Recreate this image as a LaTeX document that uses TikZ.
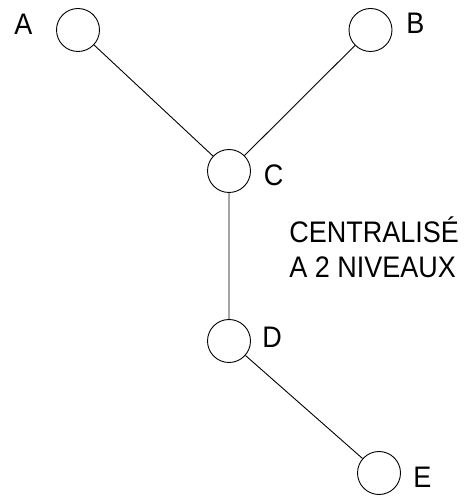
\documentclass[tikz,border=0pt]{standalone}
\usepackage{fontspec,graphicx}
\setmainfont{Liberation Sans}
\usetikzlibrary{positioning}
\newcommand{\tallbox}[1]{\scalebox{1}[1.1]{#1}}

\begin{document}
\begin{tikzpicture}[x=1pt,y=1pt,line width=.9pt,
	site/.style={draw,circle,minimum size=43pt,inner sep=0pt},
	lbl/.style={anchor=base west,inner sep=0pt,font=\fontsize{27}{32}\selectfont}]
	\useasboundingbox (0,0) rectangle (473,496);
	\node[site] (a) at (78,466) {};
	\node[site] (b) at (370.5,466) {};
	\node[site] (c) at (229,325) {};
	\node[site] (d) at (229,155) {};
	\node[site] (e) at (379,23) {};
	\draw (a)--(c) (b)--(c) (c)--(d) (d)--(e);
	\node[lbl] (la) at (14,461) {\tallbox{A}};
	\node[lbl] (lb) at (406,462) {\tallbox{B}};
	\node[lbl] (lc) at (263.5,310) {\tallbox{C}};
	\node[lbl] (ld) at (262,148) {\tallbox{D}};
	\node[lbl] (le) at (413,8) {\tallbox{E}};
	\node[lbl] (txt) at (289,218) {\tallbox{\begin{tabular}[b]{@{}l@{}}CENTRALISÉ\\A 2 NIVEAUX\end{tabular}}};
\end{tikzpicture}
\end{document}
